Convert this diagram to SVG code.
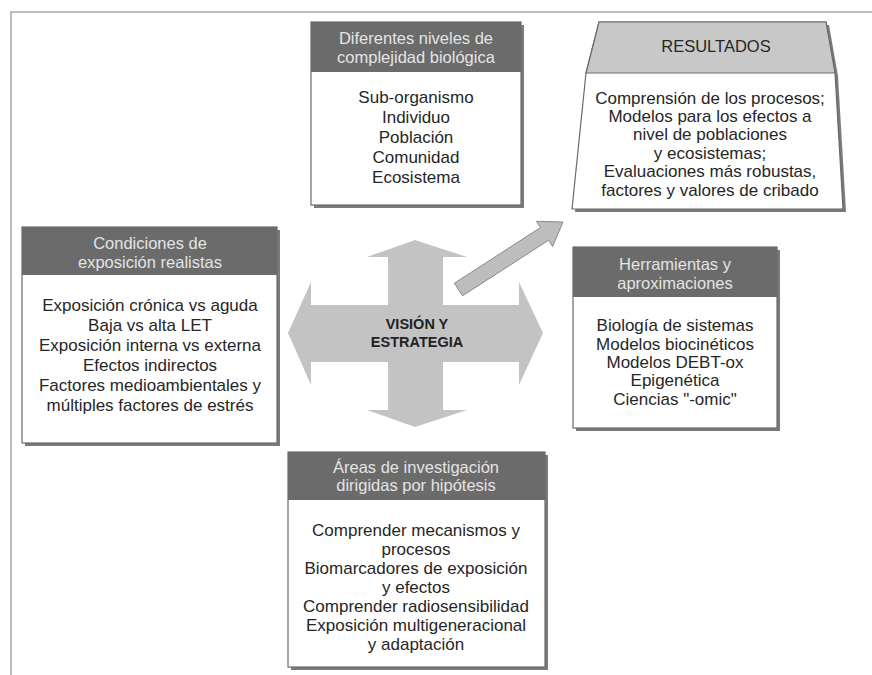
<svg xmlns="http://www.w3.org/2000/svg" width="872" height="675" viewBox="0 0 872 675">
<style>
.frame{fill:none;stroke:#a8a8a8;stroke-width:1.5}
.shadow{fill:#7a7a7a}
.body{fill:#fff;stroke:#6a6a6a;stroke-width:1.2}
.head{fill:#6b6b6b}
.ht{font-family:"Liberation Sans",Arial,sans-serif;font-size:16.5px;fill:#e4e4e4;text-anchor:middle}
.bt{font-family:"Liberation Sans",Arial,sans-serif;font-size:17px;fill:#262626;text-anchor:middle}
.rt{font-family:"Liberation Sans",Arial,sans-serif;font-size:16.5px;fill:#262626;text-anchor:middle}
.cross{fill:#c3c3c3}
.diag{fill:#bdbdbd;stroke:#8a8a8a;stroke-width:1}
.ct{font-family:"Liberation Sans",Arial,sans-serif;font-size:14.5px;font-weight:bold;fill:#222;text-anchor:middle}
</style>
<rect width="872" height="675" fill="#fff"/>
<path class="frame" d="M11,675 V12 H872"/>

<g id="connectors">
  <polygon class="cross" points="415,240 467,257 443,257 443,305 519,305 519,282 543,333 519,385 519,362 443,362 443,410 467,410 415,427 367,410 388,410 388,362 311,362 311,385 288,333 311,282 311,305 388,305 388,257 367,257"/>
  <polygon class="diag" points="454.4,283.2 540.4,227.6 536.4,221.3 563,222 552.6,246.5 548.6,240.2 462.6,295.8"/>
</g>

<g id="center">
  <text class="ct" x="417" y="329">VISIÓN Y</text>
  <text class="ct" x="417" y="347">ESTRATEGIA</text>
</g>

<g id="niveles">
  <rect class="shadow" x="314" y="25" width="210" height="183"/>
  <rect class="body" x="311" y="22" width="210" height="183"/>
  <rect class="head" x="311" y="22" width="210" height="50"/>
  <text class="ht" x="416" y="44">Diferentes niveles de</text>
  <text class="ht" x="416" y="63">complejidad biológica</text>
  <text class="bt" x="416" y="103">Sub-organismo</text>
  <text class="bt" x="416" y="123">Individuo</text>
  <text class="bt" x="416" y="143">Población</text>
  <text class="bt" x="416" y="163">Comunidad</text>
  <text class="bt" x="416" y="183">Ecosistema</text>
</g>

<g id="resultados">
  <polygon class="shadow" points="602,25 829,25 838,76 846,212 575,212 589,76"/>
  <polygon class="body" points="599,22 826,22 835,73 843,209 572,209 586,73"/>
  <polygon fill="#c8c8c8" stroke="#6a6a6a" stroke-width="1.2" points="599,22 826,22 835,73 586,73"/>
  <text class="rt" x="716" y="52">RESULTADOS</text>
  <text class="bt" x="710" y="104">Comprensión de los procesos;</text>
  <text class="bt" x="710" y="122">Modelos para los efectos a</text>
  <text class="bt" x="710" y="140">nivel de poblaciones</text>
  <text class="bt" x="710" y="159">y ecosistemas;</text>
  <text class="bt" x="710" y="177">Evaluaciones más robustas,</text>
  <text class="bt" x="710" y="196">factores y valores de cribado</text>
</g>

<g id="condiciones">
  <rect class="shadow" x="25" y="230" width="255" height="216"/>
  <rect class="body" x="22" y="227" width="255" height="216"/>
  <rect class="head" x="22" y="227" width="255" height="48"/>
  <text class="ht" x="150" y="249">Condiciones de</text>
  <text class="ht" x="150" y="268">exposición realistas</text>
  <text class="bt" x="150" y="311">Exposición crónica vs aguda</text>
  <text class="bt" x="150" y="331">Baja vs alta LET</text>
  <text class="bt" x="150" y="351">Exposición interna vs externa</text>
  <text class="bt" x="150" y="371">Efectos indirectos</text>
  <text class="bt" x="150" y="391">Factores medioambientales y</text>
  <text class="bt" x="150" y="411">múltiples factores de estrés</text>
</g>

<g id="herramientas">
  <rect class="shadow" x="576" y="250" width="204" height="181"/>
  <rect class="body" x="573" y="247" width="204" height="181"/>
  <rect class="head" x="573" y="247" width="204" height="50"/>
  <text class="ht" x="675" y="270">Herramientas y</text>
  <text class="ht" x="675" y="289">aproximaciones</text>
  <text class="bt" x="675" y="331">Biología de sistemas</text>
  <text class="bt" x="675" y="350">Modelos biocinéticos</text>
  <text class="bt" x="675" y="368">Modelos DEBT-ox</text>
  <text class="bt" x="675" y="386">Epigenética</text>
  <text class="bt" x="675" y="405">Ciencias "-omic"</text>
</g>

<g id="areas">
  <rect class="shadow" x="291" y="455" width="257" height="215"/>
  <rect class="body" x="288" y="452" width="257" height="215"/>
  <rect class="head" x="288" y="452" width="257" height="48"/>
  <text class="ht" x="416" y="473">Áreas de investigación</text>
  <text class="ht" x="416" y="491">dirigidas por hipótesis</text>
  <text class="bt" x="416" y="536">Comprender mecanismos y</text>
  <text class="bt" x="416" y="555">procesos</text>
  <text class="bt" x="416" y="574">Biomarcadores de exposición</text>
  <text class="bt" x="416" y="593">y efectos</text>
  <text class="bt" x="416" y="612">Comprender radiosensibilidad</text>
  <text class="bt" x="416" y="631">Exposición multigeneracional</text>
  <text class="bt" x="416" y="650">y adaptación</text>
</g>
</svg>
